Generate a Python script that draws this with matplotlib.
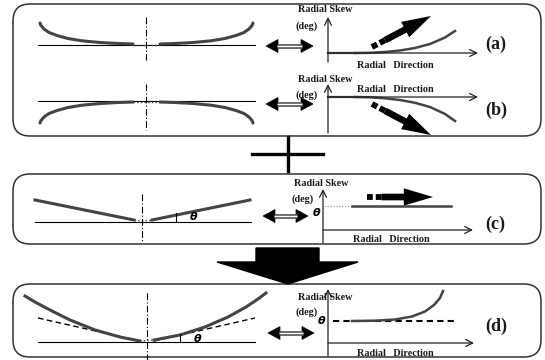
import matplotlib
matplotlib.use('Agg')
import matplotlib.pyplot as plt
from matplotlib.patches import FancyBboxPatch, FancyArrowPatch, Polygon

plt.rcParams['font.family'] = ['Liberation Serif', 'DejaVu Serif']

# panel frames: (x0, y0, x1, y1) in pixel units
boxes = [(13, 4, 541, 136), (13, 174, 541, 244), (13, 284, 541, 357)]
panel_labels = ['(a)', '(b)', '(c)', '(d)']
label_y = [44, 110, 224, 326]

# (a) blade profile, curving upward
a_left_x = [40, 41, 44, 49, 57, 68, 82, 100, 118, 133]
a_left_y = [23, 25.5, 29, 32.5, 35.5, 38.5, 40.8, 42.5, 43.5, 44]
a_right_x = [160, 175, 193, 211, 225, 236, 244, 249, 252, 253]
a_right_y = [44, 43.5, 42.5, 40.8, 38.5, 35.5, 32.5, 29, 25.5, 23]
# (b) blade profile, curving downward
b_left_x = [40, 41, 44, 49, 57, 68, 82, 100, 118, 133]
b_left_y = [123, 120.5, 117, 113.5, 110.5, 107.5, 105.2, 103.5, 102.5, 102]
b_right_x = [160, 175, 193, 211, 225, 236, 244, 249, 252, 253]
b_right_y = [102, 102.5, 103.5, 105.2, 107.5, 110.5, 113.5, 117, 120.5, 123]
# radial skew curves
a_skew_x = [355, 370, 385, 400, 415, 430, 445, 455]
a_skew_y = [53, 52.8, 52, 50.5, 48, 44, 37.5, 31]
b_skew_x = [355, 370, 385, 400, 415, 430, 445, 455]
b_skew_y = [97, 97.3, 98.3, 100, 102.8, 107, 114, 121]
# (c) straight lean
c_left_x = [35, 134]
c_left_y = [200, 220]
c_right_x = [152, 250]
c_right_y = [220, 200]
# (d) combined
d_left_x = [25, 35, 50, 70, 95, 120, 140]
d_left_y = [296, 302, 310, 320, 330, 337, 341]
d_right_x = [154, 180, 205, 228, 246, 258, 266]
d_right_y = [340, 335, 327, 317, 307, 299, 293]
d_skew_x = [352, 375, 395, 412, 425, 434, 440, 443]
d_skew_y = [321, 320.7, 319.5, 316.5, 311.5, 305, 298, 291]

fig = plt.figure(figsize=(5.45, 3.6), dpi=100)
ax = fig.add_axes([0, 0, 1, 1])
ax.set_xlim(0, 545)
ax.set_ylim(360, 0)
ax.axis('off')

for x0, y0, x1, y1 in boxes:
    ax.add_patch(FancyBboxPatch((x0, y0), x1 - x0, y1 - y0,
                                boxstyle='round,pad=0,rounding_size=17',
                                fc='white', ec='#333333', lw=1.1))

gray = '#444444'
bold = dict(fontweight='bold', color='#1a1a1a')
small = 7.3


def axes_pair(x, ytop, ybot, yh, xend):
    style = dict(arrowstyle='->,head_length=0.5,head_width=0.25',
                 lw=0.9, color='#222222', shrinkA=0, shrinkB=0)
    ax.annotate('', xy=(x, ytop), xytext=(x, ybot), arrowprops=style)
    ax.annotate('', xy=(xend, yh), xytext=(x, yh), arrowprops=style)


def double_arrow(x0, x1, y):
    hl, hw = 12, 6.5
    ax.plot([x0 + hl - 1, x1 - hl + 1], [y, y], color='#555555', lw=3.4,
            solid_capstyle='butt')
    ax.plot([x0 + hl - 1, x1 - hl + 1], [y, y], color='white', lw=1.0,
            solid_capstyle='butt')
    ax.add_patch(Polygon([(x0, y), (x0 + hl, y - hw), (x0 + hl, y + hw)],
                         closed=True, fc='black', ec='black', lw=0.5))
    ax.add_patch(Polygon([(x1, y), (x1 - hl, y - hw), (x1 - hl, y + hw)],
                         closed=True, fc='black', ec='black', lw=0.5))


def thick_arrow(x0, y0, x1, y1):
    # dashed tail then a solid fat arrow
    fx = x0 + (x1 - x0) * 0.22
    fy = y0 + (y1 - y0) * 0.22
    ax.plot([x0, fx], [y0, fy], color='black', lw=4.2, dashes=(1.0, 0.5),
            solid_capstyle='butt')
    ax.add_patch(FancyArrowPatch((fx, fy), (x1, y1),
                                 arrowstyle='simple,head_length=2.1,head_width=1.25,tail_width=0.48',
                                 mutation_scale=10, color='black', lw=0,
                                 shrinkA=0, shrinkB=0))


def center_line(x, y0, y1):
    ax.plot([x, x], [y0, y1], color='black', lw=0.8, dashes=(6, 2, 1, 2))


def theta(x, y):
    ax.text(x, y, r'$\boldsymbol{\theta}$', fontsize=8, ha='center', va='center')


# ----- (a) -----
ax.plot([38, 255], [45, 45], color='black', lw=0.8)
ax.plot(a_left_x, a_left_y, color=gray, lw=2.2, solid_capstyle='round')
ax.plot(a_right_x, a_right_y, color=gray, lw=2.2, solid_capstyle='round')
ax.plot([133, 160], [44.5, 44.5], color=gray, lw=1, ls=':')
center_line(146, 17, 60)
double_arrow(266, 313, 46)
axes_pair(328, 17, 62, 53, 478)
ax.plot([328, 355], [53, 53], color=gray, lw=1.6)
ax.plot(a_skew_x, a_skew_y, color=gray, lw=1.8)
thick_arrow(372, 47, 431, 16)
ax.text(325, 9, 'Radial Skew', fontsize=small, ha='center', va='center', **bold)
ax.text(296, 26, '(deg)', fontsize=small, va='center', **bold)
ax.text(357, 65, 'Radial   Direction', fontsize=small, va='center', **bold)

# ----- (b) -----
ax.plot([38, 255], [101, 101], color='black', lw=0.8)
ax.plot(b_left_x, b_left_y, color=gray, lw=2.2, solid_capstyle='round')
ax.plot(b_right_x, b_right_y, color=gray, lw=2.2, solid_capstyle='round')
ax.plot([133, 160], [101.5, 101.5], color=gray, lw=1, ls=':')
center_line(146, 84, 130)
double_arrow(266, 313, 104)
axes_pair(328, 84, 133, 97, 478)
ax.plot([328, 355], [97, 97], color=gray, lw=1.6)
ax.plot(b_skew_x, b_skew_y, color=gray, lw=1.8)
thick_arrow(372, 104, 431, 135)
ax.text(325, 79, 'Radial Skew', fontsize=small, ha='center', va='center', **bold)
ax.text(296, 95, '(deg)', fontsize=small, va='center', **bold)
ax.text(357, 90, 'Radial   Direction', fontsize=small, va='center', **bold)

# ----- plus sign -----
ax.plot([252, 323], [154, 154], color='black', lw=2.4)
ax.plot([288, 288], [137, 171], color='black', lw=2.4)

# ----- (c) -----
ax.plot([35, 251], [222, 222], color='black', lw=0.8)
ax.plot(c_left_x, c_left_y, color=gray, lw=2.2)
ax.plot(c_right_x, c_right_y, color=gray, lw=2.2)
ax.plot([134, 152], [220, 220], color=gray, lw=1, ls=':')
center_line(142, 194, 242)
ax.plot([176, 176], [213, 222], color='black', lw=0.8)
theta(194, 216)
double_arrow(263, 308, 216)
axes_pair(323, 189, 243, 230, 473)
ax.plot([324, 352], [206, 206], color='#888888', lw=0.8, ls=':')
ax.plot([352, 451], [206, 206], color=gray, lw=1.8)
thick_arrow(367, 197, 433, 197)
theta(317, 212)
ax.text(321, 184, 'Radial Skew', fontsize=small, ha='center', va='center', **bold)
ax.text(292, 199, '(deg)', fontsize=small, va='center', **bold)
ax.text(353, 239, 'Radial   Direction', fontsize=small, va='center', **bold)

# ----- big down arrow -----
ax.add_patch(Polygon([(256, 248), (319, 248), (319, 262), (358, 262),
                      (288, 284), (217, 262), (256, 262)],
                     closed=True, fc='black', ec='black'))

# ----- (d) -----
ax.plot([38, 255], [342, 342], color='black', lw=0.8)
ax.plot([38, 140], [318, 341], color='black', lw=1, dashes=(4, 2.5))
ax.plot([154, 255], [341, 318], color='black', lw=1, dashes=(4, 2.5))
ax.plot(d_left_x, d_left_y, color=gray, lw=2.2)
ax.plot(d_right_x, d_right_y, color=gray, lw=2.2)
ax.plot([140, 154], [341, 340], color=gray, lw=1, ls=':')
center_line(147, 293, 360)
ax.plot([180, 180], [334, 342], color='black', lw=0.8)
theta(198, 338)
double_arrow(268, 314, 333)
axes_pair(328, 289, 356, 343, 474)
ax.plot([333, 455], [321, 321], color='black', lw=1.5, dashes=(3, 2))
ax.plot(d_skew_x, d_skew_y, color=gray, lw=1.8)
theta(322, 320)
ax.text(325, 297, 'Radial Skew', fontsize=small, ha='center', va='center', **bold)
ax.text(295, 312, '(deg)', fontsize=small, va='center', **bold)
ax.text(357, 353, 'Radial   Direction', fontsize=small, va='center', **bold)

for lab, y in zip(panel_labels, label_y):
    ax.text(485, y, lab, fontsize=13, va='center', **bold)

fig.savefig('out.png', dpi=100)
